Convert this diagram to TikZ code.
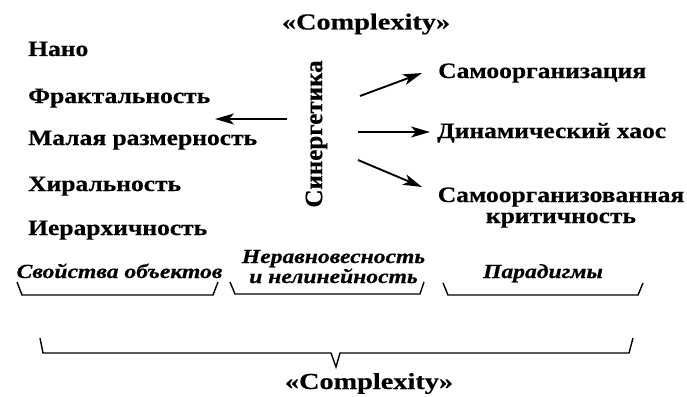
\documentclass[tikz,border=0pt]{standalone}
\usepackage{fontspec}
\setmainfont{Liberation Serif}[FakeStretch=1.16,FakeBold=0.4]
\newfontfamily\ttlfont{Liberation Serif}[FakeStretch=1.23,FakeBold=0.4]
\newfontfamily\italfont{Liberation Serif}[FakeStretch=1.18,FakeBold=0.6]
\newfontfamily\synfont{Liberation Serif}[FakeBold=0.4]
\usetikzlibrary{arrows.meta}
\begin{document}
\begin{tikzpicture}[x=1pt,y=-1pt,
  lbl/.style={font=\fontsize{22}{21}\selectfont\bfseries, inner sep=0pt, anchor=base west},
  ttl/.style={font=\ttlfont\fontsize{23}{24}\selectfont\bfseries, inner sep=0pt, anchor=base},
  ital/.style={font=\italfont\fontsize{20}{20}\selectfont\bfseries\itshape, inner sep=0pt, anchor=base, align=center},
  arr/.style={line width=1.9pt, -{Stealth[length=19pt,width=11pt,inset=5pt]}},
  bracepath/.style={line width=1.4pt, line join=miter}]
\useasboundingbox (0,0) rectangle (687,396);
% titles
\node[ttl] (ctop) at (366,29.5) {«Complexity»};
\node[ttl] (cbot) at (369,389) {«Complexity»};
% left column
\node[lbl] (nano) at (28,56) {Нано};
\node[lbl] (frac) at (28,103) {Фрактальность};
\node[lbl] (mal)  at (28,145) {Малая размерность};
\node[lbl] (hir)  at (28,191) {Хиральность};
\node[lbl] (ier)  at (28,235) {Иерархичность};
% center
\node[font=\synfont\fontsize{25}{25}\selectfont\bfseries, inner sep=0pt, rotate=90] (syn) at (316.5,134) {Синергетика};
% right column
\node[lbl] (samo) at (438,78) {Самоорганизация};
\node[lbl] (din)  at (437,138) {Динамический хаос};
\node[lbl, anchor=base, align=center] (skr) at (561,223) {Самоорганизованная\\критичность};
% arrows
\coordinate (l0) at (287,119);
\coordinate (l1) at (215,119);
\coordinate (r0a) at (360,96);
\coordinate (r1a) at (422,73);
\coordinate (r0b) at (358,132);
\coordinate (r1b) at (430,132);
\coordinate (r0c) at (358,160);
\coordinate (r1c) at (422,187);
\draw[arr] (l0) -- (l1);
\draw[arr] (r0a) -- (r1a);
\draw[arr] (r0b) -- (r1b);
\draw[arr] (r0c) -- (r1c);
% italic labels
\node[ital] (svo) at (119.5,278) {Свойства объектов};
\node[ital] (ner) at (333.5,283) {Неравновесность\\и нелинейность};
\node[ital] (par) at (543,278) {Парадигмы};
% braces
\draw[bracepath] (17,282) -- (22,295) -- (213,295) -- (218,282);
\draw[bracepath] (230,282) -- (235,294) -- (420,294) -- (424,282);
\draw[bracepath] (443,283) -- (448,295) -- (638,295) -- (643,283);
\draw[bracepath] (40,338) -- (43,353) -- (331,353) -- (336,367) -- (340,353) -- (629,353) -- (633,338);
\end{tikzpicture}
\end{document}
